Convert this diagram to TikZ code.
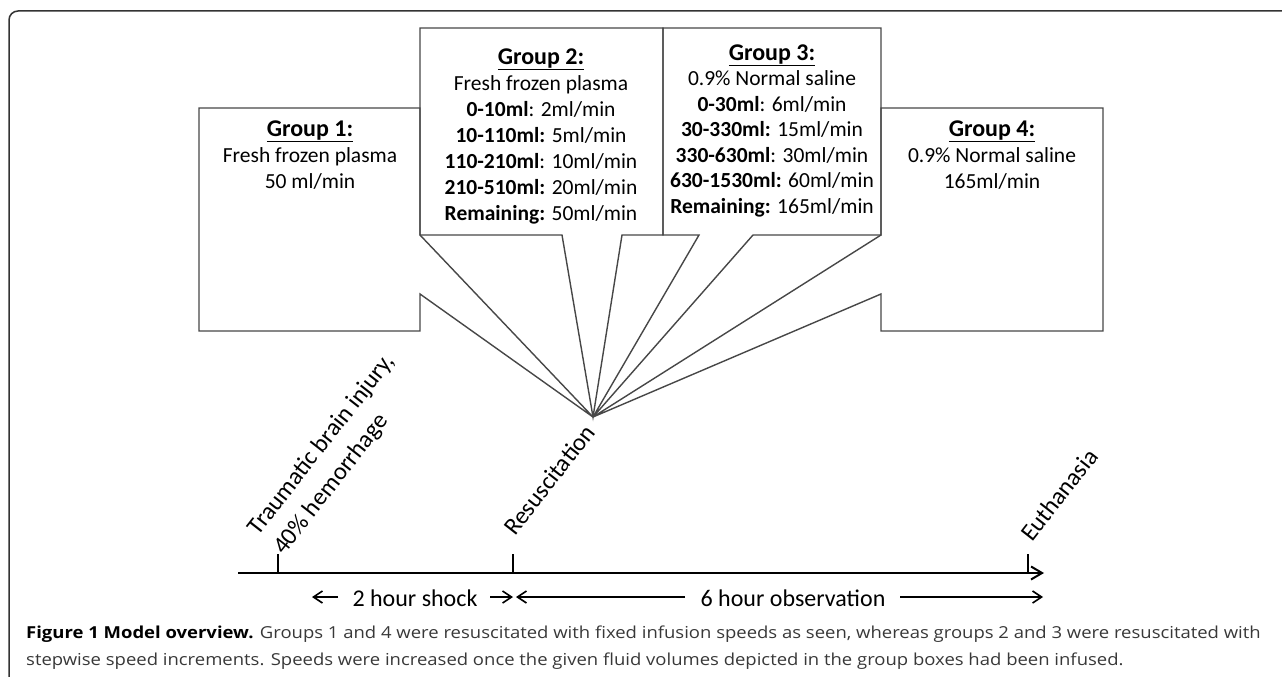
\documentclass[tikz,border=0pt]{standalone}
\usepackage{fontspec}
\setmainfont{Carlito}
\newfontfamily\capfont[FakeStretch=1.12]{Open Sans}
\usetikzlibrary{arrows.meta}
\newcommand{\gtitle}[1]{{\fontsize{24}{26}\selectfont\bfseries\underline{#1}}}
\begin{document}
\begin{tikzpicture}[x=1pt,y=-1pt,
  callout/.style={draw=black!72, line width=1.4pt, line join=miter},
  grouptext/.style={align=center, inner sep=0pt, anchor=base, font=\fontsize{21.5}{26}\selectfont},
  axisline/.style={line width=2pt, -{Straight Barb[length=11pt,width=13pt,line width=2pt]}},
  tickmark/.style={line width=2pt},
  tlabel/.style={rotate=52, anchor=base west, inner sep=0pt, font=\fontsize{24.5}{32}\selectfont, align=left},
  spanarrow/.style={line width=1.6pt, -{Straight Barb[length=9pt,width=12pt,line width=1.6pt]}},
  spantext/.style={anchor=base, inner sep=0pt, font=\fontsize{24}{28}\selectfont},
]
\useasboundingbox (0,0) rectangle (1282,677);
% outer frame
\draw[black!80, line width=1.5pt, rounded corners=9pt] (1300,11) -- (9,11) -- (9,700);
% focal point
\coordinate (F) at (593,417);
% callouts
\draw[callout] (420,235) -- (420,108) -- (199,108) -- (199,331) -- (420,331) -- (420,294) -- (F) -- cycle;
\draw[callout] (420,235) -- (420,28) -- (663,28) -- (663,235) -- (622,235) -- (F) -- (562,235) -- cycle;
\draw[callout] (663,235) -- (663,28) -- (881,28) -- (881,235) -- (753,235) -- (F) -- (699,235) -- cycle;
\draw[callout] (881,235) -- (881,108) -- (1103,108) -- (1103,331) -- (881,331) -- (881,294) -- (F) -- cycle;
% group texts (anchor = baseline of last line)
\node[grouptext] (g1) at (310,188) {\gtitle{Group 1:}\\Fresh frozen plasma\\50 ml/min};
\node[grouptext] (g2) at (541,220) {\gtitle{Group 2:}\\Fresh frozen plasma\\\textbf{0-10ml}: 2ml/min\\\textbf{10-110ml:} 5ml/min\\\textbf{110-210ml}: 10ml/min\\\textbf{210-510ml:} 20ml/min\\\textbf{Remaining:} 50ml/min};
\node[grouptext, font=\fontsize{21.5}{25.5}\selectfont] (g3) at (772,213) {\gtitle{Group 3:}\\0.9\% Normal saline\\\textbf{0-30ml}: 6ml/min\\\textbf{30-330ml:} 15ml/min\\\textbf{330-630ml}: 30ml/min\\\textbf{630-1530ml:} 60ml/min\\\textbf{Remaining:} 165ml/min};
\node[grouptext] (g4) at (992,188) {\gtitle{Group 4:}\\0.9\% Normal saline\\165ml/min};
% timeline
\coordinate (A0) at (238,573);
\coordinate (A1) at (1044,573);
\draw[axisline] (A0) -- (A1);
\coordinate (T1) at (278,573);
\coordinate (T2) at (513,573);
\coordinate (T3) at (1028,573);
\draw[tickmark] (T1) -- ++(0,-19);
\draw[tickmark] (T2) -- ++(0,-19);
\draw[tickmark] (T3) -- ++(0,-19);
\node[tlabel] (l1) at (284,556) {Traumatic brain injury,\\40\% hemorrhage};
\node[tlabel] (l2) at (515,537) {Resuscitation};
\node[tlabel] (l3) at (1032,543) {Euthanasia};
% spans
\node[spantext] (shock) at (415,606) {2 hour shock};
\node[spantext] (obs) at (793,606) {6 hour observation};
\coordinate (s1a) at (338,597); \coordinate (s1b) at (312,597);
\coordinate (s2a) at (490,597); \coordinate (s2b) at (513,597);
\coordinate (s3a) at (685,597); \coordinate (s3b) at (516,597);
\coordinate (s4a) at (900,597); \coordinate (s4b) at (1043,597);
\draw[spanarrow] (s1a) -- (s1b);
\draw[spanarrow] (s2a) -- (s2b);
\draw[spanarrow] (s3a) -- (s3b);
\draw[spanarrow] (s4a) -- (s4b);
% caption
\node[anchor=base west, inner sep=0pt, align=left, text=black!78, font=\capfont\fontsize{16.5}{27}\selectfont] (cap) at (26,665) {\textbf{\color{black}Figure 1 Model overview.} Groups 1 and 4 were resuscitated with fixed infusion speeds as seen, whereas groups 2 and 3 were resuscitated with\\stepwise speed increments. Speeds were increased once the given fluid volumes depicted in the group boxes had been infused.};
\end{tikzpicture}
\end{document}
